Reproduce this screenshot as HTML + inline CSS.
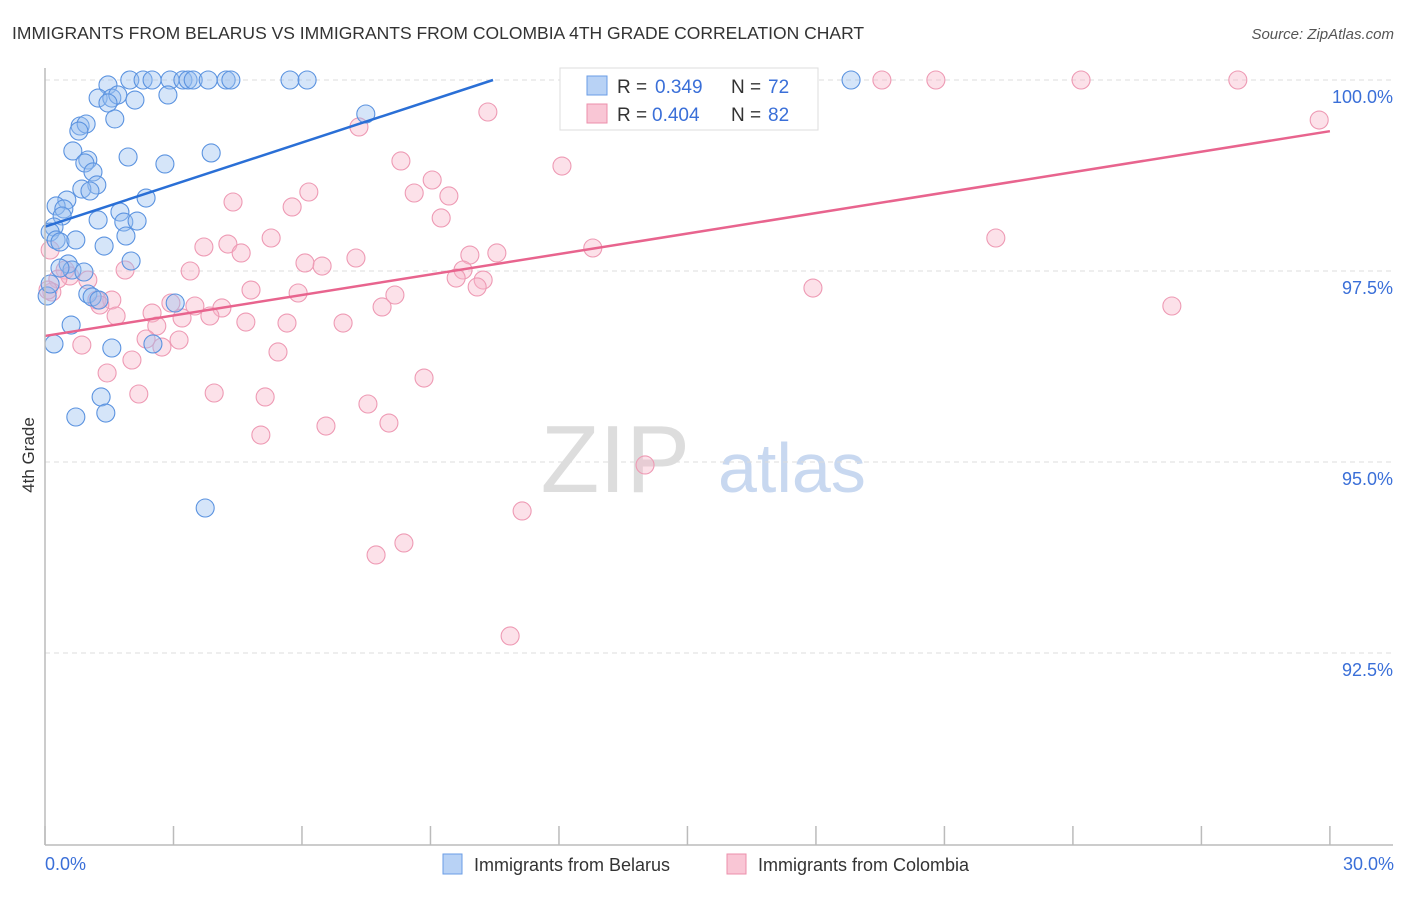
<!DOCTYPE html>
<html><head><meta charset="utf-8"><style>
body{margin:0;background:#fff;font-family:"Liberation Sans",sans-serif}
svg text{font-family:"Liberation Sans",sans-serif}
</style></head><body>
<svg id="chart" width="1406" height="892" xmlns="http://www.w3.org/2000/svg">
<text x="12" y="39" font-size="17.5" fill="#333">IMMIGRANTS FROM BELARUS VS IMMIGRANTS FROM COLOMBIA 4TH GRADE CORRELATION CHART</text>
<text x="1394" y="39" font-size="15" fill="#555" text-anchor="end" font-style="italic">Source: ZipAtlas.com</text>
<text transform="translate(34,455) rotate(-90)" font-size="17" fill="#333" text-anchor="middle">4th Grade</text>
<g>
<text x="690" y="492" font-size="96" fill="#ddd" text-anchor="end" font-family="Liberation Serif">ZIP</text>
<text x="718" y="492" font-size="70" fill="#c8d8f0">atlas</text>
</g>
<g id="grid"></g>
<g id="pinkPts"></g>
<g id="bluePts"></g>
<g id="lines"></g>
<line x1="45" y1="68" x2="45" y2="845" stroke="#bbb" stroke-width="1.5"/>
<line x1="45" y1="845" x2="1393" y2="845" stroke="#bbb" stroke-width="1.5"/>
<g id="xt"></g>
<text x="45" y="870" font-size="18" fill="#3a6fd8">0.0%</text>
<text x="1394" y="870" font-size="18" fill="#3a6fd8" text-anchor="end">30.0%</text>
<g>
<rect x="560" y="68" width="258" height="62" fill="#fff" stroke="#ddd"/>
<rect x="587" y="76" width="20" height="19" fill="#b8d2f5" stroke="#6a9ce6"/>
<rect x="587" y="104" width="20" height="19" fill="#f9c6d5" stroke="#ec8fab"/>
<text x="617" y="93" font-size="19" fill="#333">R =</text>
<text x="655" y="93" font-size="19" fill="#3a6fd8">0.349</text>
<text x="731" y="93" font-size="19" fill="#333">N =</text>
<text x="768" y="93" font-size="19" fill="#3a6fd8">72</text>
<text x="617" y="121" font-size="19" fill="#333">R =</text>
<text x="652" y="121" font-size="19" fill="#3a6fd8">0.404</text>
<text x="731" y="121" font-size="19" fill="#333">N =</text>
<text x="768" y="121" font-size="19" fill="#3a6fd8">82</text>
</g>
<g>
<rect x="443" y="854" width="19" height="20" fill="#b8d2f5" stroke="#6a9ce6"/>
<text x="474" y="871" font-size="18" fill="#333">Immigrants from Belarus</text>
<rect x="727" y="854" width="19" height="20" fill="#f9c6d5" stroke="#ec8fab"/>
<text x="758" y="871" font-size="18" fill="#333">Immigrants from Colombia</text>
</g>
</svg>
<script>
const yTicks=[100,97.5,95,92.5];
const yTickLabels=["100.0%","97.5%","95.0%","92.5%"];
const xTicks=[0,3,6,9,12,15,18,21,24,27,30];
const bluePx=[[130,80],[143,80],[152,80],[170,80],[183,80],[188,80],[193,80],[208,80],[226,80],[231,80],[290,80],[307,80],[851,80],[108,85],[98,98],[112,98],[118,95],[108,103],[135,100],[168,95],[80,126],[86,124],[79,131],[115,119],[73,151],[88,160],[85,163],[128,157],[165,164],[211,153],[93,172],[97,185],[82,189],[90,191],[146,198],[67,200],[56,206],[64,209],[62,216],[120,212],[98,220],[124,222],[137,221],[54,227],[50,232],[56,240],[60,242],[76,240],[126,236],[104,246],[131,261],[68,264],[72,270],[84,272],[88,294],[92,297],[99,300],[47,296],[175,303],[71,325],[54,344],[112,348],[153,344],[101,397],[76,417],[106,413],[205,508],[366,114],[60,268],[50,284]];
const pinkPx=[[637,80],[730,80],[882,80],[936,80],[1081,80],[1238,80],[1319,120],[488,112],[359,127],[562,166],[401,161],[432,180],[309,192],[414,193],[449,196],[233,202],[292,207],[441,218],[228,244],[271,238],[241,253],[204,247],[593,248],[497,253],[470,255],[996,238],[305,263],[322,266],[356,258],[463,270],[456,278],[483,280],[477,287],[125,270],[190,271],[65,270],[70,276],[88,280],[58,279],[52,292],[813,288],[1172,306],[251,290],[298,293],[395,295],[382,307],[97,300],[112,300],[100,305],[171,303],[195,306],[222,308],[116,316],[182,318],[210,316],[152,313],[157,326],[246,322],[287,323],[343,323],[162,347],[146,339],[179,340],[278,352],[82,345],[107,373],[132,360],[139,394],[214,393],[265,397],[424,378],[368,404],[261,435],[326,426],[389,423],[645,465],[522,511],[376,555],[404,543],[510,636],[50,250],[48,290]];
const blueX=bluePx.map(p=>+((p[0]-45)/42.83).toFixed(2));
const blueY=bluePx.map(p=>+(100-(p[1]-80)/76.4).toFixed(3));
const pinkX=pinkPx.map(p=>+((p[0]-45)/42.83).toFixed(2));
const pinkY=pinkPx.map(p=>+(100-(p[1]-80)/76.4).toFixed(3));
const blueTrendX=[0,10.46];const blueTrendY=[98.08,100];
const pinkTrendX=[0,30];const pinkTrendY=[96.65,99.33];
const X=v=>45+v*42.83, Y=v=>80+(100-v)*76.4;
const NS="http://www.w3.org/2000/svg";
function mk(t,a,parent){const e=document.createElementNS(NS,t);for(const k in a)e.setAttribute(k,a[k]);parent.appendChild(e);return e;}
const grid=document.getElementById('grid');
yTicks.forEach((v,i)=>{
 const l=mk('line',{x1:45,x2:1393,y1:Y(v),y2:Y(v),stroke:'#ddd','stroke-dasharray':'5,4'},grid);
 
 
 const t=mk('text',{x:1393,y:Y(v)+23,'font-size':18,fill:'#3a6fd8','text-anchor':'end'},grid);
 t.textContent=yTickLabels[i];
 
 
});
const xt=document.getElementById('xt');
xTicks.forEach(v=>{
 const l=mk('line',{x1:X(v),x2:X(v),y1:826,y2:845,stroke:'#bbb','stroke-width':1.5},xt);
 
 
});
const bp=document.getElementById('bluePts');
blueX.forEach((v,i)=>{
 const c=mk('circle',{cx:X(v),cy:Y(blueY[i]),r:9,fill:'rgba(150,190,240,0.4)',stroke:'#5b93e0','stroke-width':1.1},bp);
 
 
});
const pp=document.getElementById('pinkPts');
pinkX.forEach((v,i)=>{
 const c=mk('circle',{cx:X(v),cy:Y(pinkY[i]),r:9,fill:'rgba(248,180,200,0.4)',stroke:'#ee9ab4','stroke-width':1.1},pp);
 
 
});
const lines=document.getElementById('lines');
const bl=mk('line',{x1:X(blueTrendX[0]),y1:Y(blueTrendY[0]),x2:X(blueTrendX[1]),y2:Y(blueTrendY[1]),stroke:'#2a6fd6','stroke-width':2.5},lines);


const pl=mk('line',{x1:X(pinkTrendX[0]),y1:Y(pinkTrendY[0]),x2:X(pinkTrendX[1]),y2:Y(pinkTrendY[1]),stroke:'#e8648e','stroke-width':2.5},lines);


</script>
</body></html>
